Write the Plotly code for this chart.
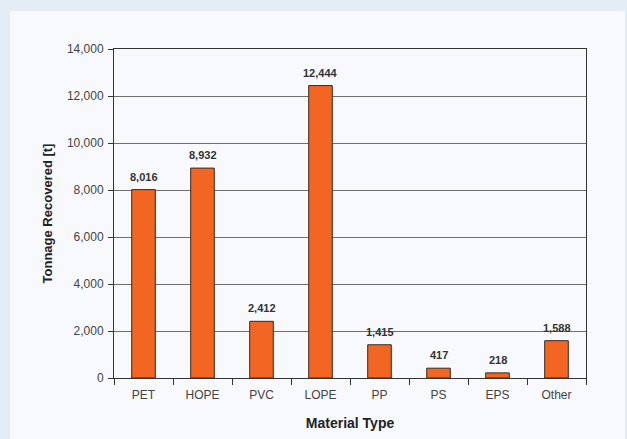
import plotly.graph_objects as go

categories = ["PET", "HOPE", "PVC", "LOPE", "PP", "PS", "EPS", "Other"]
tonnage = [8016, 8932, 2412, 12444, 1415, 417, 218, 1588]
y_ticks = [0, 2000, 4000, 6000, 8000, 10000, 12000, 14000]

FONT = "Liberation Sans, Arial, Helvetica, sans-serif"

fig = go.Figure()
fig.add_trace(go.Bar(
    x=categories, y=tonnage, width=0.4,
    marker=dict(color="#f26522", line=dict(color="#3a2a20", width=1)),
    hoverinfo="x+y",
))

for c, v in zip(categories, tonnage):
    fig.add_annotation(x=c, y=v, text=f"<b>{v:,}</b>", showarrow=False,
                       yanchor="bottom", yshift=5,
                       font=dict(family=FONT, size=11, color="#333333"))

# panel background
fig.add_shape(type="rect", xref="paper", yref="paper",
              x0=-(114-10)/472, x1=(625-114)/472, y0=-70/329, y1=(378-11)/329,
              fillcolor="#f7f9fc", line=dict(width=0), layer="below")

fig.update_layout(
    width=627, height=439,
    margin=dict(l=114, r=41, t=49, b=61),
    paper_bgcolor="#e4ecf6",
    plot_bgcolor="#f7f9fc",
    showlegend=False,
    bargap=0.6,
    font=dict(family=FONT, size=12, color="#333333"),
    xaxis=dict(
        type="category",
        tickson="boundaries", ticks="outside", ticklen=6, tickcolor="#333333",
        ticklabelstandoff=6,
        showline=True, linecolor="#333333", linewidth=1, mirror=True,
        showgrid=False,
        tickfont=dict(size=12, color="#444444"),
        title=dict(text="<b>Material Type</b>", font=dict(size=14, color="#222222"), standoff=16),
    ),
    yaxis=dict(
        range=[0, 14000], tickvals=y_ticks, tickformat=",",
        ticks="outside", ticklen=5, tickcolor="#333333",
        ticklabelstandoff=2,
        showline=True, linecolor="#333333", linewidth=1, mirror=True,
        showgrid=True, gridcolor="#707070", gridwidth=1,
        zeroline=False,
        tickfont=dict(size=12, color="#444444"),
        title=dict(text="<b>Tonnage Recovered [t]</b>", font=dict(size=13, color="#222222"), standoff=11),
    ),
)

fig.write_html(
    "out.html",
    config={"displayModeBar": False},
    post_script="document.body.style.margin='0';document.body.style.background='#e4ecf6';",
)
